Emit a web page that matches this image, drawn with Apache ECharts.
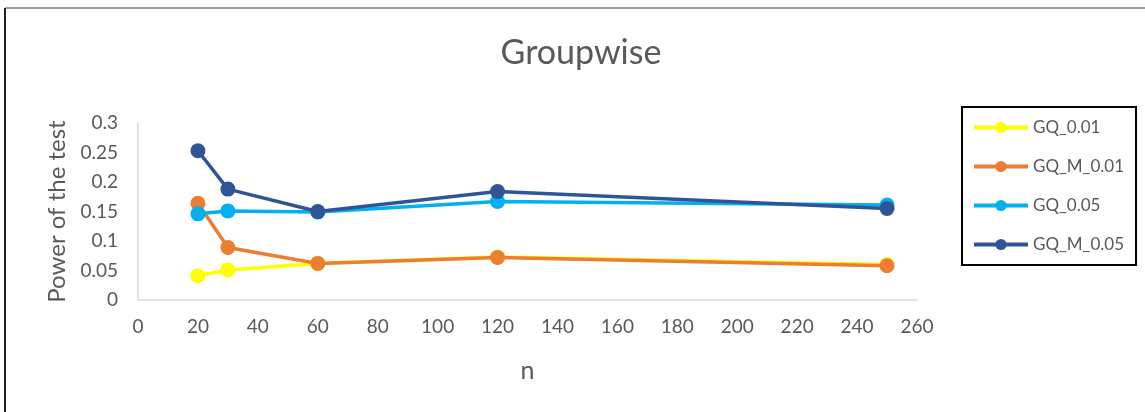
<!DOCTYPE html>
<html>
<head>
<meta charset="utf-8">
<script src="https://cdn.jsdelivr.net/npm/echarts@6/dist/echarts.min.js"></script>
<style>
  html, body { margin: 0; padding: 0; background: #fff; }
  #chart { width: 1145px; height: 412px; }
</style>
</head>
<body>
<div id="chart"></div>
<script>
// Sample sizes and test power for each procedure
const sampleSizes = [20, 30, 60, 120, 250];
const gq001  = [0.041, 0.051, 0.062, 0.073, 0.060];
const gqm001 = [0.164, 0.089, 0.062, 0.072, 0.058];
const gq005  = [0.146, 0.151, 0.149, 0.167, 0.161];
const gqm005 = [0.253, 0.188, 0.150, 0.184, 0.155];

const seriesNames = ['GQ_0.01', 'GQ_M_0.01', 'GQ_0.05', 'GQ_M_0.05'];
const seriesColors = ['#FFFF00', '#ED7D31', '#00B0F0', '#2F5597'];
const seriesValues = [gq001, gqm001, gq005, gqm005];

const FONT = 'Lato';
const GREY = '#595959';

const chart = echarts.init(document.getElementById('chart'));

chart.setOption({
  animation: false,
  backgroundColor: '#fff',
  textStyle: { fontFamily: FONT },
  title: {
    text: 'Groupwise',
    left: 576,
    textAlign: 'center',
    top: 31,
    textStyle: { fontFamily: FONT, fontSize: 34, fontWeight: 'normal', color: GREY }
  },
  legend: {
    orient: 'vertical',
    left: 962,
    top: 107,
    itemWidth: 54,
    itemHeight: 14,
    itemGap: 22,
    padding: [12, 12, 12, 10],
    borderColor: '#000',
    borderWidth: 2,
    lineStyle: { width: 4 },
    textStyle: { fontFamily: FONT, fontSize: 17, color: GREY },
    data: seriesNames
  },
  grid: { left: 138, right: 228, top: 123, bottom: 112, containLabel: false },
  xAxis: {
    type: 'value',
    min: 0, max: 260, interval: 20,
    name: 'n',
    nameLocation: 'middle',
    nameGap: 58,
    nameTextStyle: { fontFamily: FONT, fontSize: 25, color: GREY },
    axisLine: { show: true, lineStyle: { color: '#D9D9D9', width: 1.5 } },
    axisTick: { show: false },
    splitLine: { show: false },
    axisLabel: { fontFamily: FONT, fontSize: 19, color: GREY, margin: 17 }
  },
  yAxis: {
    type: 'value',
    min: 0, max: 0.3, interval: 0.05,
    name: 'Power of the test',
    nameLocation: 'middle',
    nameGap: 69,
    nameRotate: 90,
    nameTextStyle: { fontFamily: FONT, fontSize: 24, color: GREY },
    axisLine: { show: true, lineStyle: { color: '#D9D9D9', width: 1.5 } },
    axisTick: { show: false },
    splitLine: { show: false },
    axisLabel: { fontFamily: FONT, fontSize: 19, color: GREY, margin: 20 }
  },
  series: seriesNames.map((name, i) => ({
    name: name,
    type: 'line',
    data: sampleSizes.map((n, j) => [n, seriesValues[i][j]]),
    symbol: 'circle',
    symbolSize: 15,
    lineStyle: { color: seriesColors[i], width: 3.5 },
    itemStyle: { color: seriesColors[i] },
    z: 2 + i
  })),
  graphic: [
    // chart frame edges
    { type: 'line', shape: { x1: 5, y1: 8, x2: 1145, y2: 8 }, style: { stroke: '#808080', lineWidth: 1.5 } },
    { type: 'line', shape: { x1: 5, y1: 8, x2: 5, y2: 412 }, style: { stroke: '#222', lineWidth: 2 } }
  ]
});
</script>
</body>
</html>
